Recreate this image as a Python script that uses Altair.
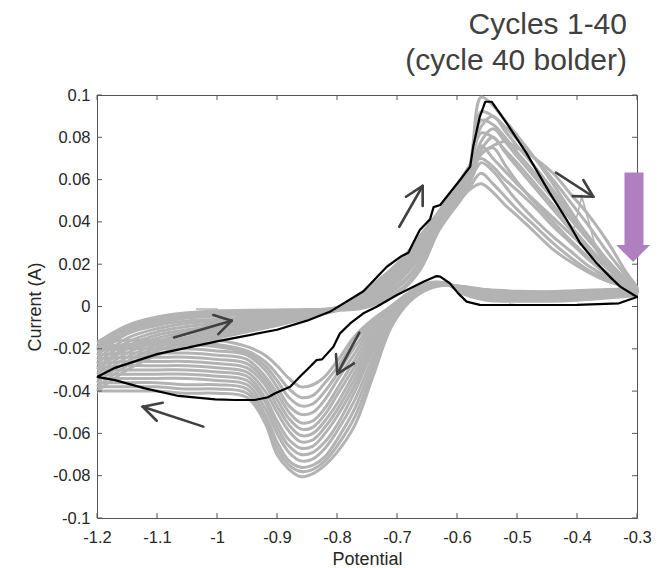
import altair as alt
import pandas as pd

# ---------------- data ----------------
POTENTIAL_TICKS = [-1.2, -1.1, -1.0, -0.9, -0.8, -0.7, -0.6, -0.5, -0.4, -0.3]
CURRENT_TICKS = [-0.1, -0.08, -0.06, -0.04, -0.02, 0.0, 0.02, 0.04, 0.06, 0.08, 0.1]
TITLE_LINES = ["Cycles 1-40", "(cycle 40 bolder)"]

# cycle 40 (black)
C40_ANODIC_V = [-1.2, -1.17, -1.1, -1.0, -0.9, -0.85, -0.81, -0.756, -0.717, -0.692, -0.681,
                -0.672, -0.662, -0.645, -0.639, -0.628, -0.595, -0.578, -0.573, -0.562, -0.553,
                -0.542, -0.517, -0.484, -0.445, -0.417, -0.395, -0.367, -0.345, -0.328, -0.3]
C40_ANODIC_I = [-0.0333, -0.0290, -0.0225, -0.0165, -0.0110, -0.0067, -0.0022, 0.0072, 0.0188,
                0.0239, 0.0254, 0.0306, 0.0362, 0.0412, 0.0470, 0.0480, 0.0598, 0.0661, 0.0756,
                0.0897, 0.0968, 0.0968, 0.0866, 0.0724, 0.0535, 0.0409, 0.0300, 0.0204, 0.0140,
                0.0094, 0.0045]
C40_CATHODIC_V = [-0.3, -0.33, -0.4, -0.5, -0.562, -0.584, -0.598, -0.612, -0.628, -0.634, -0.656,
                  -0.70, -0.734, -0.756, -0.778, -0.795, -0.806, -0.825, -0.834, -0.845, -0.862,
                  -0.878, -0.903, -0.915, -0.937, -0.97, -1.003, -1.064, -1.12, -1.17, -1.2]
C40_CATHODIC_I = [0.0045, 0.0015, 0.0008, 0.0007, 0.0008, 0.0023, 0.0062, 0.0110, 0.0141, 0.0144,
                  0.0117, 0.0054, -0.0001, -0.0032, -0.0080, -0.0127, -0.0190, -0.0250, -0.0253,
                  -0.0285, -0.0332, -0.0379, -0.0410, -0.0429, -0.0442, -0.0442, -0.0439, -0.0423,
                  -0.0387, -0.0348, -0.0333]

# gray cycles (representative of cycles 1-39), sampled on shared potentials
GRAY_ANODIC_V = [-1.2, -1.15, -1.1, -1.05, -1.0, -0.95, -0.9, -0.85, -0.8, -0.76, -0.72, -0.69,
                 -0.66, -0.63, -0.6, -0.58, -0.56, -0.54, -0.52, -0.5, -0.47, -0.44, -0.41, -0.38,
                 -0.35, -0.32, -0.3]
GRAY_CATHODIC_V = [-0.3, -0.35, -0.4, -0.45, -0.5, -0.55, -0.59, -0.62, -0.65, -0.68, -0.71, -0.74,
                   -0.77, -0.8, -0.82, -0.84, -0.86, -0.88, -0.9, -0.92, -0.95, -1.0, -1.05, -1.1,
                   -1.15, -1.2]
GRAY_ANODIC_I = [
    [-0.040, -0.030, -0.023, -0.018, -0.015, -0.012, -0.009, -0.0055, -0.002, -0.001, 0.003, 0.008, 0.018, 0.036, 0.048, 0.055, 0.058, 0.054, 0.048, 0.043, 0.035, 0.027, 0.021, 0.016, 0.012, 0.0095, 0.009],
    [-0.038, -0.028, -0.021, -0.017, -0.014, -0.011, -0.0085, -0.005, -0.0018, 0.0, 0.004, 0.009, 0.019, 0.037, 0.049, 0.056, 0.063, 0.058, 0.052, 0.046, 0.038, 0.030, 0.023, 0.017, 0.013, 0.010, 0.0088],
    [-0.036, -0.026, -0.0195, -0.0155, -0.013, -0.010, -0.008, -0.0047, -0.0016, 0.001, 0.005, 0.011, 0.021, 0.038, 0.050, 0.058, 0.068, 0.064, 0.057, 0.050, 0.041, 0.033, 0.026, 0.019, 0.014, 0.0105, 0.0085],
    [-0.034, -0.024, -0.018, -0.0145, -0.012, -0.0095, -0.0075, -0.0044, -0.0015, 0.0015, 0.006, 0.012, 0.022, 0.039, 0.051, 0.059, 0.072, 0.075, 0.067, 0.059, 0.049, 0.040, 0.031, 0.023, 0.016, 0.011, 0.0083],
    [-0.032, -0.022, -0.0165, -0.013, -0.011, -0.0088, -0.007, -0.004, -0.0014, 0.002, 0.007, 0.014, 0.024, 0.040, 0.052, 0.060, 0.076, 0.070, 0.064, 0.058, 0.050, 0.042, 0.034, 0.026, 0.018, 0.0115, 0.008],
    [-0.030, -0.020, -0.015, -0.012, -0.010, -0.008, -0.0063, -0.0037, -0.0013, 0.0025, 0.008, 0.015, 0.025, 0.041, 0.053, 0.061, 0.074, 0.080, 0.073, 0.066, 0.056, 0.046, 0.036, 0.027, 0.019, 0.012, 0.0078],
    [-0.029, -0.019, -0.0135, -0.011, -0.009, -0.0072, -0.0057, -0.0034, -0.0012, 0.003, 0.009, 0.016, 0.027, 0.042, 0.054, 0.062, 0.078, 0.084, 0.078, 0.071, 0.061, 0.051, 0.041, 0.031, 0.022, 0.013, 0.0076],
    [-0.027, -0.017, -0.012, -0.0095, -0.008, -0.0064, -0.0051, -0.0031, -0.0011, 0.0035, 0.010, 0.017, 0.028, 0.042, 0.054, 0.062, 0.072, 0.076, 0.078, 0.075, 0.070, 0.063, 0.053, 0.043, 0.031, 0.017, 0.0074],
    [-0.025, -0.015, -0.0105, -0.008, -0.007, -0.0056, -0.0045, -0.0028, -0.001, 0.004, 0.011, 0.018, 0.029, 0.043, 0.055, 0.063, 0.088, 0.086, 0.080, 0.073, 0.063, 0.053, 0.042, 0.032, 0.022, 0.013, 0.0072],
    [-0.023, -0.013, -0.009, -0.0068, -0.006, -0.0048, -0.0039, -0.0025, -0.0009, 0.0045, 0.012, 0.019, 0.030, 0.043, 0.055, 0.064, 0.092, 0.090, 0.085, 0.079, 0.070, 0.060, 0.049, 0.038, 0.026, 0.015, 0.007],
    [-0.021, -0.012, -0.008, -0.0055, -0.0045, -0.0038, -0.0032, -0.0021, -0.0008, 0.005, 0.013, 0.020, 0.031, 0.044, 0.056, 0.065, 0.099, 0.095, 0.088, 0.081, 0.070, 0.058, 0.045, 0.032, 0.020, 0.011, 0.0068],
    [-0.020, -0.011, -0.007, -0.0048, -0.0038, -0.003, -0.0026, -0.0019, -0.0007, 0.0055, 0.014, 0.021, 0.032, 0.044, 0.056, 0.065, 0.082, 0.080, 0.074, 0.068, 0.058, 0.048, 0.038, 0.028, 0.019, 0.011, 0.0065],
    [-0.019, -0.010, -0.006, -0.004, -0.003, -0.0024, -0.0021, -0.0017, -0.0006, 0.006, 0.015, 0.022, 0.033, 0.045, 0.057, 0.066, 0.085, 0.090, 0.083, 0.076, 0.066, 0.055, 0.044, 0.033, 0.022, 0.012, 0.0062],
    [-0.017, -0.009, -0.005, -0.003, -0.002, -0.0018, -0.0016, -0.0014, -0.0005, 0.006, 0.015, 0.023, 0.034, 0.045, 0.057, 0.066, 0.070, 0.066, 0.060, 0.055, 0.047, 0.038, 0.030, 0.022, 0.015, 0.009, 0.006],
]
GRAY_CATHODIC_I = [
    [0.009, 0.008, 0.0075, 0.007, 0.0072, 0.008, 0.0095, 0.010, 0.008, 0.002, -0.010, -0.033, -0.056, -0.069, -0.075, -0.079, -0.0805, -0.077, -0.070, -0.055, -0.043, -0.041, -0.041, -0.040, -0.040, -0.040],
    [0.0088, 0.0078, 0.0073, 0.0068, 0.007, 0.0078, 0.0093, 0.0102, 0.0082, 0.0025, -0.009, -0.030, -0.052, -0.066, -0.073, -0.077, -0.078, -0.075, -0.067, -0.053, -0.041, -0.039, -0.039, -0.038, -0.038, -0.038],
    [0.0085, 0.0075, 0.007, 0.0065, 0.0068, 0.0075, 0.009, 0.0104, 0.0085, 0.003, -0.008, -0.027, -0.048, -0.063, -0.071, -0.075, -0.076, -0.073, -0.064, -0.051, -0.039, -0.037, -0.037, -0.036, -0.036, -0.036],
    [0.0083, 0.0072, 0.0067, 0.0062, 0.0065, 0.0072, 0.0088, 0.0105, 0.0088, 0.0035, -0.007, -0.024, -0.044, -0.059, -0.067, -0.072, -0.073, -0.069, -0.060, -0.048, -0.037, -0.035, -0.034, -0.034, -0.034, -0.034],
    [0.008, 0.007, 0.0064, 0.006, 0.0062, 0.007, 0.0086, 0.0106, 0.009, 0.004, -0.006, -0.021, -0.040, -0.056, -0.064, -0.069, -0.070, -0.066, -0.057, -0.045, -0.035, -0.033, -0.032, -0.032, -0.032, -0.032],
    [0.0078, 0.0067, 0.006, 0.0057, 0.0058, 0.0066, 0.0083, 0.0107, 0.0093, 0.0045, -0.005, -0.019, -0.037, -0.052, -0.060, -0.066, -0.067, -0.063, -0.054, -0.043, -0.033, -0.031, -0.030, -0.030, -0.030, -0.030],
    [0.0076, 0.0064, 0.0056, 0.0053, 0.0055, 0.0062, 0.008, 0.0108, 0.0095, 0.005, -0.004, -0.017, -0.034, -0.049, -0.057, -0.063, -0.064, -0.059, -0.050, -0.040, -0.031, -0.029, -0.028, -0.028, -0.028, -0.029],
    [0.0074, 0.0061, 0.0052, 0.0049, 0.0051, 0.0058, 0.0077, 0.0109, 0.0098, 0.0052, -0.003, -0.015, -0.031, -0.046, -0.054, -0.060, -0.061, -0.056, -0.047, -0.037, -0.029, -0.027, -0.026, -0.026, -0.026, -0.027],
    [0.0072, 0.0058, 0.0048, 0.0045, 0.0047, 0.0054, 0.0074, 0.011, 0.010, 0.0055, -0.002, -0.013, -0.028, -0.042, -0.051, -0.057, -0.058, -0.053, -0.044, -0.035, -0.027, -0.025, -0.024, -0.024, -0.024, -0.025],
    [0.007, 0.0055, 0.0044, 0.0041, 0.0043, 0.005, 0.0071, 0.011, 0.0102, 0.0058, -0.0015, -0.011, -0.025, -0.039, -0.048, -0.054, -0.055, -0.050, -0.041, -0.033, -0.025, -0.023, -0.022, -0.022, -0.022, -0.023],
    [0.0068, 0.0052, 0.004, 0.0037, 0.0039, 0.0046, 0.0068, 0.011, 0.0104, 0.006, -0.001, -0.009, -0.022, -0.035, -0.044, -0.050, -0.051, -0.047, -0.038, -0.030, -0.023, -0.021, -0.020, -0.020, -0.020, -0.021],
    [0.0065, 0.0048, 0.0036, 0.0033, 0.0035, 0.0042, 0.0065, 0.011, 0.0106, 0.0062, -0.0005, -0.008, -0.019, -0.032, -0.040, -0.046, -0.047, -0.043, -0.035, -0.028, -0.022, -0.019, -0.018, -0.018, -0.019, -0.020],
    [0.0062, 0.0044, 0.0033, 0.003, 0.003, 0.0036, 0.0062, 0.011, 0.0108, 0.0065, 0.0, -0.007, -0.016, -0.029, -0.036, -0.042, -0.043, -0.039, -0.032, -0.026, -0.021, -0.018, -0.017, -0.017, -0.018, -0.019],
    [0.006, 0.004, 0.003, 0.0025, 0.0025, 0.003, 0.006, 0.011, 0.011, 0.0065, 0.0, -0.006, -0.014, -0.026, -0.033, -0.037, -0.038, -0.034, -0.028, -0.023, -0.019, -0.016, -0.016, -0.016, -0.016, -0.017],
]
# small glitches visible in single gray cycles
GLITCH_SPIKE_V = [-0.405, -0.392, -0.367]
GLITCH_SPIKE_I = [0.037, 0.052, 0.026]
GLITCH_FLAG_V = [-1.035, -1.0, -1.0]
GLITCH_FLAG_I = [-0.0012, -0.0012, -0.003]

# direction arrows (tail, tip and the two wing ends), in data units
ARROW_TAIL = [(-1.0717, -0.0146), (-1.0228, -0.0568), (-0.6962, 0.0377), (-0.435, 0.0633), (-0.7628, -0.0124)]
ARROW_TIP = [(-0.9755, -0.0067), (-1.1238, -0.0474), (-0.6572, 0.0570), (-0.3728, 0.0519), (-0.7995, -0.0319)]
ARROW_WING_A = [(-1.0062, -0.0040), (-1.0905, -0.0455), (-0.685, 0.0519), (-0.3895, 0.0598), (-0.8017, -0.0225)]
ARROW_WING_B = [(-0.9978, -0.0131), (-1.1005, -0.0540), (-0.6572, 0.0475), (-0.4072, 0.0522), (-0.7717, -0.0269)]

# big purple arrow at the right edge
PURPLE_SHAFT = [(-0.305, 0.0633), (-0.305, 0.0286)]
PURPLE_HEAD = (-0.3065, 0.0251)

# ---------------- build tables ----------------
rows = []
for k, (ai, ci) in enumerate(zip(GRAY_ANODIC_I, GRAY_CATHODIC_I)):
    n = 0
    for v, i in zip(GRAY_ANODIC_V, ai):
        rows.append({"cycle": k, "order": n, "V": v, "I": i}); n += 1
    for v, i in zip(GRAY_CATHODIC_V[1:], ci[1:]):
        rows.append({"cycle": k, "order": n, "V": v, "I": i}); n += 1
gray_df = pd.DataFrame(rows)

rows = []
for g, (vs, is_) in enumerate([(GLITCH_SPIKE_V, GLITCH_SPIKE_I), (GLITCH_FLAG_V, GLITCH_FLAG_I)]):
    for n, (v, i) in enumerate(zip(vs, is_)):
        rows.append({"g": g, "order": n, "V": v, "I": i})
glitch_df = pd.DataFrame(rows)

rows = []
n = 0
for v, i in zip(C40_ANODIC_V, C40_ANODIC_I):
    rows.append({"order": n, "V": v, "I": i}); n += 1
for v, i in zip(C40_CATHODIC_V[1:], C40_CATHODIC_I[1:]):
    rows.append({"order": n, "V": v, "I": i}); n += 1
black_df = pd.DataFrame(rows)

seg = []
for t, p, a, b in zip(ARROW_TAIL, ARROW_TIP, ARROW_WING_A, ARROW_WING_B):
    seg.append({"V": t[0], "I": t[1], "V2": p[0], "I2": p[1]})
    seg.append({"V": a[0], "I": a[1], "V2": p[0], "I2": p[1]})
    seg.append({"V": b[0], "I": b[1], "V2": p[0], "I2": p[1]})
arrow_df = pd.DataFrame(seg)

shaft_df = pd.DataFrame([{"V": PURPLE_SHAFT[0][0], "I": PURPLE_SHAFT[0][1],
                          "V2": PURPLE_SHAFT[1][0], "I2": PURPLE_SHAFT[1][1]}])
head_df = pd.DataFrame([{"V": PURPLE_HEAD[0], "I": PURPLE_HEAD[1]}])
xt_df = pd.DataFrame({"V": POTENTIAL_TICKS})
yt_df = pd.DataFrame({"I": CURRENT_TICKS})
title1_df = pd.DataFrame({"t": [TITLE_LINES[0]]})
title2_df = pd.DataFrame({"t": [TITLE_LINES[1]]})

# ---------------- chart ----------------
W, H = 540, 423
FONT = "Liberation Sans, Arial, Helvetica, sans-serif"
TXT = "#262626"
FRAME = "#555555"
GRAY = "#b3b3b3"

xs = alt.Scale(domain=[-1.2, -0.3], nice=False, zero=False)
ys = alt.Scale(domain=[-0.1, 0.1], nice=False, zero=False)
x_axis = alt.Axis(values=POTENTIAL_TICKS, title="Potential", grid=False, domain=False, ticks=False,
                  tickSize=0, labelPadding=11, titlePadding=5, labelFlush=False,
                  labelFont=FONT, titleFont=FONT, labelFontSize=16.5, titleFontSize=18,
                  labelColor=TXT, titleColor=TXT, titleFontWeight="normal",
                  labelExpr="(datum.value < 0 ? '-' : '') + format(abs(datum.value), '.1~f')")
y_axis = alt.Axis(values=CURRENT_TICKS, title="Current (A)", grid=False, domain=False, ticks=False,
                  tickSize=0, labelPadding=7, titlePadding=8, labelFlush=False,
                  labelFont=FONT, titleFont=FONT, labelFontSize=16.5, titleFontSize=18,
                  labelColor=TXT, titleColor=TXT, titleFontWeight="normal",
                  labelExpr="datum.value == 0 ? '0' : (datum.value < 0 ? '-' : '') + format(abs(datum.value), '.2~f')")
X = alt.X("V:Q", scale=xs, axis=x_axis)
Y = alt.Y("I:Q", scale=ys, axis=y_axis)

gray = alt.Chart(gray_df).mark_line(color=GRAY, strokeWidth=3.0, strokeJoin="round",
                                    interpolate="catmull-rom").encode(
    x=X, y=Y, detail="cycle:N", order="order:Q")
glitch = alt.Chart(glitch_df).mark_line(color=GRAY, strokeWidth=1.6).encode(
    x=X, y=Y, detail="g:N", order="order:Q")
black = alt.Chart(black_df).mark_line(color="#000000", strokeWidth=2.2, strokeJoin="round").encode(
    x=X, y=Y, order="order:Q")
arrows = alt.Chart(arrow_df).mark_rule(color="#404040", strokeWidth=2.6, strokeCap="round").encode(
    x=X, y=Y, x2="V2:Q", y2="I2:Q")
shaft = alt.Chart(shaft_df).mark_rule(color="#b07fbf", strokeWidth=19, strokeCap="butt").encode(
    x=X, y=Y, x2="V2:Q", y2="I2:Q")
head = alt.Chart(head_df).mark_point(shape="M-1,-0.5L1,-0.5L0,0.5Z", size=1156, filled=True,
                                     color="#b07fbf", opacity=1, strokeWidth=0).encode(x=X, y=Y)

tick_style = dict(color=FRAME, strokeWidth=1)
xt_bottom = alt.Chart(xt_df).mark_rule(**tick_style).encode(x=X, y=alt.value(H), y2=alt.value(H - 5))
xt_top = alt.Chart(xt_df).mark_rule(**tick_style).encode(x=X, y=alt.value(0), y2=alt.value(5))
yt_left = alt.Chart(yt_df).mark_rule(**tick_style).encode(y=Y, x=alt.value(0), x2=alt.value(5))
yt_right = alt.Chart(yt_df).mark_rule(**tick_style).encode(y=Y, x=alt.value(W), x2=alt.value(W - 5))

t1 = alt.Chart(title1_df).mark_text(align="right", baseline="alphabetic", fontSize=30, font=FONT,
                                    color="#404040").encode(text="t:N", x=alt.value(530), y=alt.value(-61))
t2 = alt.Chart(title2_df).mark_text(align="right", baseline="alphabetic", fontSize=30, font=FONT,
                                    color="#404040").encode(text="t:N", x=alt.value(530), y=alt.value(-25))

chart = alt.layer(gray, glitch, black, arrows, xt_bottom, xt_top, yt_left, yt_right, shaft, head, t1, t2).properties(
    width=W, height=H,
    background="white",
    autosize=alt.AutoSizeParams(type="none"),
    padding={"left": 89, "top": 87, "right": 24, "bottom": 50},
).configure_view(stroke=FRAME, strokeWidth=1)

chart.save("out.html", embed_options={"renderer": "svg", "actions": False})
